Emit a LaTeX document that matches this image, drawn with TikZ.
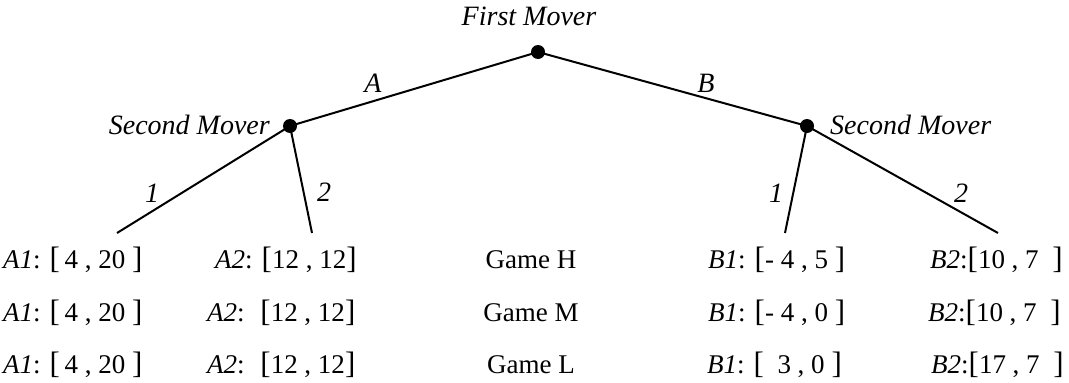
\documentclass[tikz,border=0pt]{standalone}
\usepackage{fontspec}
\setmainfont{Liberation Serif}
\newcommand{\bl}{{\fontsize{31}{31}\selectfont[}}
\newcommand{\br}{{\fontsize{31}{31}\selectfont]}}
\begin{document}
\begin{tikzpicture}[x=1pt,y=-1pt,
  dot/.style={circle,fill=black,inner sep=0pt,minimum size=14pt},
  edge/.style={line width=2pt},
  lab/.style={inner sep=0pt,font=\fontsize{28}{30}\selectfont\itshape,anchor=base},
  txt/.style={inner sep=0pt,font=\fontsize{27}{30}\selectfont,anchor=base west}]
\useasboundingbox (0,0) rectangle (1069,383);
% decision nodes
\node[dot] (r) at (538,52) {};
\node[dot] (l) at (290,126) {};
\node[dot] (rr) at (807,126) {};
% leaf ends
\coordinate (l1) at (117,233);
\coordinate (l2) at (312,233);
\coordinate (r1) at (785,233);
\coordinate (r2) at (998,233);
% edges
\draw[edge] (r.center) -- (l.center);
\draw[edge] (r.center) -- (rr.center);
\draw[edge] (l.center) -- (l1);
\draw[edge] (l.center) -- (l2);
\draw[edge] (rr.center) -- (r1);
\draw[edge] (rr.center) -- (r2);
% node labels
\node[lab] (fm) at (529,25) {First Mover};
\node[lab,anchor=base east] (sml) at (270,134) {Second Mover};
\node[lab,anchor=base west] (smr) at (830,134) {Second Mover};
% branch labels
\node[lab] (la) at (373,92) {A};
\node[lab] (lb) at (706,92) {B};
\node[lab] (l1l) at (152,202) {1};
\node[lab] (l2l) at (324,201) {2};
\node[lab] (r1l) at (776,202) {1};
\node[lab] (r2l) at (961,202) {2};
% payoff rows
\node[txt] (a11) at (3,268) {\textit{A1}: \bl\,4 , 20 \br};
\node[txt] (a21) at (215,268) {\textit{A2}: \bl 12 , 12\br};
\node[txt,anchor=base] (g1) at (531,268) {Game H};
\node[txt] (b11) at (708,268) {\textit{B1}: \bl- 4 , 5 \br};
\node[txt] (b21) at (930,268) {\textit{B2}:\bl 10 , 7\enspace\br};
\node[txt] (a12) at (3,321) {\textit{A1}: \bl\,4 , 20 \br};
\node[txt] (a22) at (207,321) {\textit{A2}: \ \bl 12 , 12\br};
\node[txt,anchor=base] (g2) at (531,321) {Game M};
\node[txt] (b12) at (708,321) {\textit{B1}: \bl- 4 , 0 \br};
\node[txt] (b22) at (928,321) {\textit{B2}:\bl 10 , 7\enspace\br};
\node[txt] (a13) at (3,373) {\textit{A1}: \bl\,4 , 20 \br};
\node[txt] (a23) at (207,373) {\textit{A2}: \ \bl 12 , 12\br};
\node[txt,anchor=base] (g3) at (531,373) {Game L};
\node[txt] (b13) at (707,373) {\textit{B1}: \bl\ \ 3 , 0 \br};
\node[txt] (b23) at (931,373) {\textit{B2}:\bl 17 , 7\enspace\br};
\end{tikzpicture}
\end{document}
